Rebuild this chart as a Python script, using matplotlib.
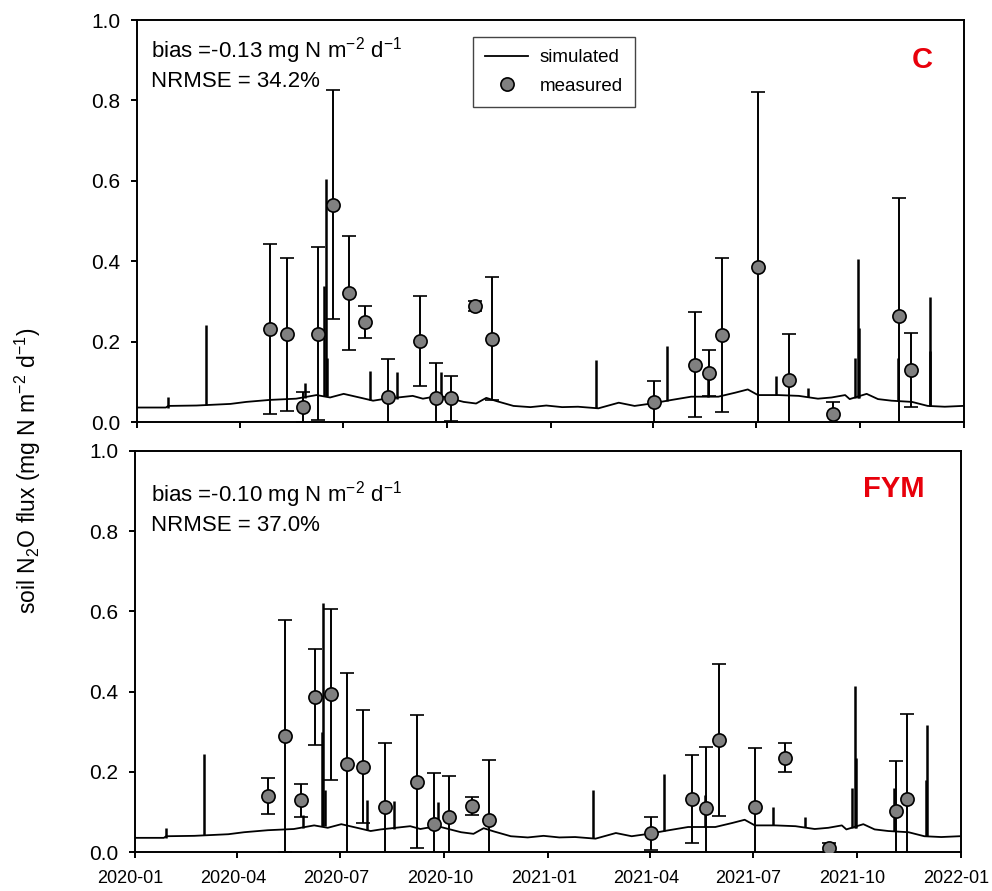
import numpy as np
import matplotlib
matplotlib.use('Agg')
import matplotlib.pyplot as plt
import matplotlib.dates as mdates
import matplotlib.transforms as mtransforms
from matplotlib.lines import Line2D

plt.rcParams['font.family'] = ['Liberation Sans', 'DejaVu Sans']
plt.rcParams['mathtext.fontset'] = 'custom'
plt.rcParams['mathtext.rm'] = 'Liberation Sans'
plt.rcParams['mathtext.it'] = 'Liberation Sans:italic'

# measurement dates (same for both treatments)
meas_dates = ['2020-04-28', '2020-05-13', '2020-05-27', '2020-06-09', '2020-06-23',
              '2020-07-07', '2020-07-21', '2020-08-10', '2020-09-07', '2020-09-22',
              '2020-10-05', '2020-10-26', '2020-11-10', '2021-04-02', '2021-05-08',
              '2021-05-21', '2021-06-01', '2021-07-03', '2021-07-30', '2021-09-07',
              '2021-11-05', '2021-11-15']

# C treatment: mean and sd
c_mean = [0.231, 0.218, 0.037, 0.220, 0.541, 0.320, 0.248, 0.061, 0.202, 0.059,
          0.059, 0.289, 0.207, 0.050, 0.143, 0.122, 0.216, 0.386, 0.104, 0.020,
          0.264, 0.130]
c_sd = [0.211, 0.190, 0.037, 0.215, 0.285, 0.142, 0.040, 0.095, 0.112, 0.089,
        0.056, 0.013, 0.153, 0.052, 0.131, 0.058, 0.192, 0.436, 0.114, 0.030,
        0.292, 0.092]

# FYM treatment: mean and sd
f_mean = [0.140, 0.289, 0.129, 0.387, 0.393, 0.219, 0.213, 0.112, 0.176, 0.070,
          0.087, 0.115, 0.080, 0.047, 0.133, 0.110, 0.280, 0.112, 0.236, 0.010,
          0.104, 0.133]
f_sd = [0.044, 0.289, 0.040, 0.120, 0.212, 0.228, 0.141, 0.161, 0.166, 0.127,
        0.103, 0.023, 0.150, 0.042, 0.109, 0.151, 0.190, 0.147, 0.035, 0.012,
        0.123, 0.211]

# simulated background flux, days after 2020-01-01
sim_day = [0, 26, 28, 53, 83, 97, 118, 141, 159, 171, 183, 200, 209, 218, 244,
           253, 259, 271, 289, 300, 309, 318, 333, 348, 362, 376, 390, 408, 426,
           440, 455, 473, 490, 514, 529, 540, 549, 567, 585, 602, 614, 626, 630,
           645, 655, 667, 685, 699, 714, 730]
sim_val = [0.036, 0.036, 0.040, 0.041, 0.045, 0.050, 0.055, 0.058, 0.067, 0.061,
           0.070, 0.059, 0.053, 0.057, 0.065, 0.058, 0.061, 0.063, 0.050, 0.046,
           0.060, 0.052, 0.040, 0.037, 0.041, 0.037, 0.038, 0.034, 0.048, 0.040,
           0.046, 0.055, 0.063, 0.063, 0.073, 0.081, 0.067, 0.067, 0.065, 0.058,
           0.061, 0.067, 0.057, 0.070, 0.057, 0.053, 0.050, 0.040, 0.038, 0.040]

# simulated emission pulses: day, foot, peak (C, FYM)
spike_day = [27.6, 61.5, 149, 165.6, 167, 168.3, 206, 229.8, 269, 405.5, 468.5,
             504.6, 565, 593.5, 635, 637.3, 638.3, 672.4, 700.7, 701.4]
spike_base = [0.036, 0.043, 0.060, 0.065, 0.065, 0.065, 0.055, 0.058, 0.062,
              0.035, 0.052, 0.063, 0.067, 0.062, 0.060, 0.060, 0.060, 0.052,
              0.040, 0.040]
c_peak = [0.063, 0.241, 0.098, 0.339, 0.604, 0.159, 0.128, 0.125, 0.124, 0.153,
          0.189, 0.140, 0.114, 0.084, 0.160, 0.405, 0.234, 0.160, 0.177, 0.312]
f_peak = [0.061, 0.246, 0.093, 0.300, 0.620, 0.155, 0.130, 0.128, 0.126, 0.155,
          0.194, 0.143, 0.114, 0.087, 0.160, 0.415, 0.234, 0.160, 0.180, 0.318]

t0 = np.datetime64('2020-01-01')
sim_t = t0 + (np.array(sim_day) * 24).astype('timedelta64[h]')
spk_t = t0 + (np.array(spike_day) * 24).astype('timedelta64[h]')
meas_t = np.array(meas_dates, dtype='datetime64[D]')

fig = plt.figure(figsize=(9.92, 8.91), dpi=100)
ax1 = fig.add_axes([136.5/992, 1-422/891, 827.5/992, 402/891])
ax2 = fig.add_axes([134.5/992, 1-852.3/891, 826/992, 401.6/891])

panels = [(ax1, c_mean, c_sd, c_peak, 'C', '-0.13', '34.2%', (0.017, 0.925, 0.846), (0.9625, 0.90)),
          (ax2, f_mean, f_sd, f_peak, 'FYM', '-0.10', '37.0%', (0.0196, 0.890, 0.813), (0.957, 0.905))]

for ax, mean, sd, peak, lab, bias, nrmse, tpos, lpos in panels:
    ax.plot(sim_t, sim_val, color='black', lw=1.3, zorder=2)
    ax.vlines(spk_t, spike_base, peak, color='black', lw=1.8, zorder=2)
    ax.errorbar(meas_t, mean, yerr=sd, fmt='o', color='black', ecolor='black',
                elinewidth=1.4, capsize=4.7, capthick=1.4, markersize=9.5,
                markerfacecolor='#808080', markeredgecolor='black', markeredgewidth=1.2,
                zorder=3)
    ax.set_ylim(0, 1.0)
    ax.set_xlim(np.datetime64('2020-01-01'), np.datetime64('2022-01-01'))
    ax.set_yticks(np.arange(0, 1.01, 0.2))
    ax.yaxis.set_major_formatter(matplotlib.ticker.FormatStrFormatter('%.1f'))
    ax.xaxis.set_major_locator(mdates.MonthLocator(bymonth=[1, 4, 7, 10]))
    ax.xaxis.set_major_formatter(mdates.DateFormatter('%Y-%m'))
    ax.tick_params(direction='out', length=4.5, width=1.4)
    ax.tick_params(axis='y', labelsize=15, pad=7)
    ax.tick_params(axis='x', labelsize=13, pad=8)
    for s in ax.spines.values():
        s.set_linewidth(1.4)
    ax.text(tpos[0], tpos[1], 'bias =' + bias + ' mg N m$^{-2}$ d$^{-1}$',
            transform=ax.transAxes, fontsize=16, va='center', ha='left')
    ax.text(tpos[0], tpos[2], 'NRMSE = ' + nrmse,
            transform=ax.transAxes, fontsize=16, va='center', ha='left')
    ax.text(lpos[0], lpos[1], lab, transform=ax.transAxes, fontsize=21,
            fontweight='bold', color='#e8000b', ha='right', va='center')

ax1.tick_params(labelbottom=False)

# date labels sit a little left of their ticks in the original
shift = mtransforms.ScaledTranslation(-4/100, 0, fig.dpi_scale_trans)
for t in ax2.get_xticklabels():
    t.set_transform(t.get_transform() + shift)

handles = [Line2D([], [], color='black', lw=1.3),
           Line2D([], [], ls='none', marker='o', markersize=9.5, markerfacecolor='#808080',
                  markeredgecolor='black', markeredgewidth=1.2)]
leg = ax1.legend(handles, ['simulated', 'measured'], loc='upper left',
                 bbox_to_anchor=(0.4066, 0.9577), borderaxespad=0, fontsize=13.5,
                 frameon=True, fancybox=False, edgecolor='#444444', handlelength=2.3,
                 borderpad=0.65, labelspacing=0.6, handletextpad=0.6, framealpha=1)
leg.get_frame().set_linewidth(1.0)

fig.text(28/992, 1-471/891, 'soil N$_2$O flux (mg N m$^{-2}$ d$^{-1}$)', rotation=90,
         fontsize=16.5, ha='center', va='center')

fig.savefig('out.png', dpi=100)
